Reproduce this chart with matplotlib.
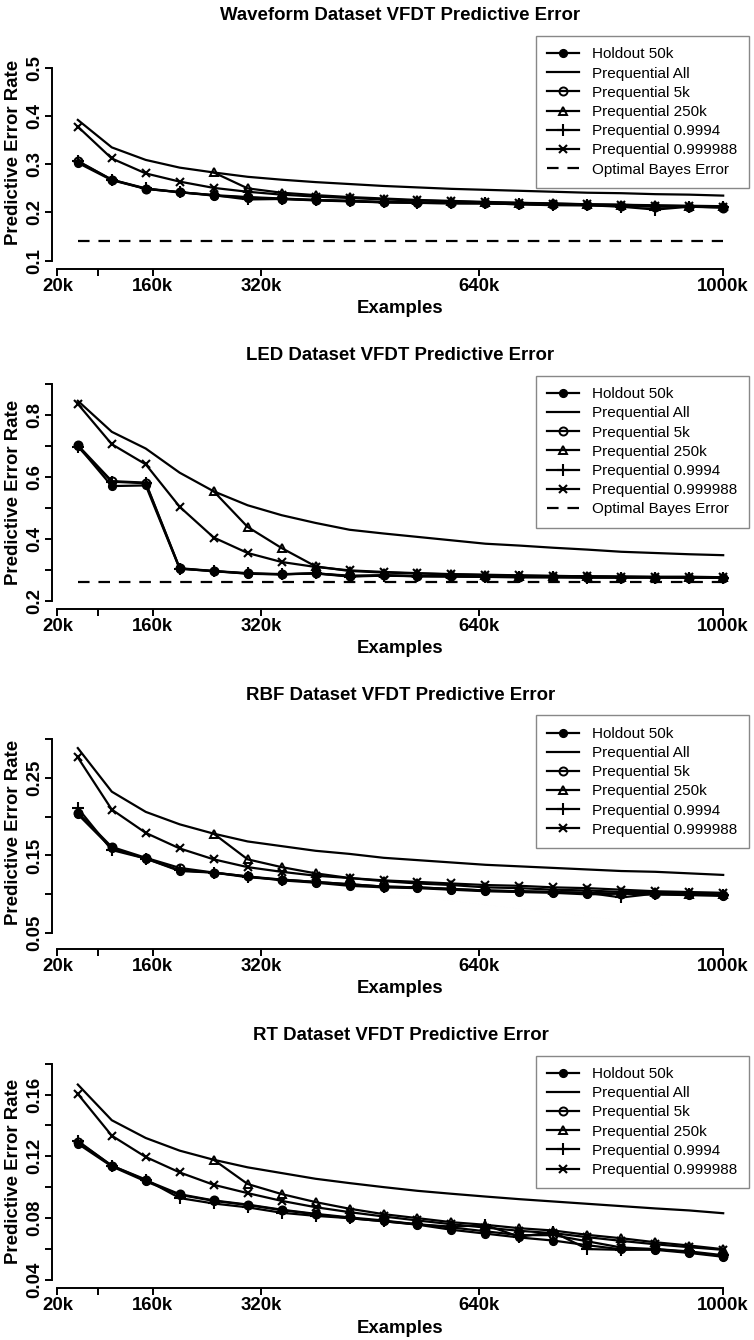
import numpy as np
import matplotlib
matplotlib.use("Agg")
import matplotlib.pyplot as plt

plt.rcParams['font.family'] = ['Liberation Sans', 'DejaVu Sans']

W, H = 754, 1340

# ---------------- data ----------------
examples_k = [50, 100, 150, 200, 250, 300, 350, 400, 450, 500,
              550, 600, 650, 700, 750, 800, 850, 900, 950, 1000]
x_ticks = [20, 80, 160, 320, 640, 1000]
x_tick_labels = ["20k", "", "160k", "320k", "640k", "1000k"]

series_labels = ["Holdout 50k", "Prequential All", "Prequential 5k",
                 "Prequential 250k", "Prequential 0.9994", "Prequential 0.999988"]
bayes_label = "Optimal Bayes Error"
nan = float("nan")

# Waveform
wave_holdout = [0.303, 0.267, 0.249, 0.242, 0.235, 0.231, 0.228, 0.225, 0.223, 0.221,
                0.220, 0.219, 0.219, 0.217, 0.216, 0.215, 0.213, 0.213, 0.212, 0.211]
wave_all = [0.392, 0.335, 0.309, 0.293, 0.283, 0.274, 0.268, 0.263, 0.259, 0.255,
            0.252, 0.249, 0.247, 0.245, 0.243, 0.241, 0.240, 0.238, 0.237, 0.235]
wave_5k = [0.306, 0.268, 0.249, 0.242, 0.236, 0.232, 0.229, 0.226, 0.224, 0.222,
           0.221, 0.220, 0.219, 0.218, 0.217, 0.216, 0.214, 0.212, 0.212, 0.210]
wave_250k = [nan, nan, nan, nan, 0.283, 0.250, 0.241, 0.236, 0.232, 0.229,
             0.226, 0.224, 0.222, 0.220, 0.219, 0.217, 0.216, 0.215, 0.214, 0.213]
wave_f9994 = [0.307, 0.268, 0.250, 0.242, 0.236, 0.227, 0.228, 0.226, 0.224, 0.221,
              0.220, 0.219, 0.219, 0.217, 0.215, 0.215, 0.212, 0.206, 0.212, 0.211]
wave_f999988 = [0.378, 0.312, 0.281, 0.264, 0.251, 0.243, 0.237, 0.233, 0.230, 0.227,
                0.225, 0.223, 0.221, 0.220, 0.218, 0.217, 0.216, 0.214, 0.213, 0.212]
wave_bayes = 0.14

# LED
led_holdout = [0.701, 0.571, 0.573, 0.304, 0.297, 0.288, 0.286, 0.290, 0.280, 0.283,
               0.280, 0.280, 0.278, 0.277, 0.277, 0.276, 0.276, 0.276, 0.276, 0.275]
led_all = [0.846, 0.746, 0.692, 0.614, 0.554, 0.509, 0.477, 0.452, 0.430, 0.418,
           0.407, 0.396, 0.385, 0.379, 0.372, 0.366, 0.359, 0.355, 0.351, 0.348]
led_5k = [0.703, 0.587, 0.582, 0.306, 0.297, 0.290, 0.287, 0.289, 0.282, 0.283,
          0.281, 0.280, 0.279, 0.278, 0.277, 0.277, 0.276, 0.276, 0.276, 0.276]
led_250k = [nan, nan, nan, nan, 0.554, 0.439, 0.371, 0.312, 0.297, 0.292,
            0.289, 0.286, 0.284, 0.282, 0.281, 0.280, 0.279, 0.278, 0.278, 0.277]
led_f9994 = [0.698, 0.585, 0.580, 0.305, 0.296, 0.289, 0.286, 0.289, 0.279, 0.282,
             0.280, 0.279, 0.278, 0.277, 0.277, 0.276, 0.276, 0.276, 0.275, 0.275]
led_f999988 = [0.836, 0.706, 0.641, 0.504, 0.405, 0.355, 0.326, 0.310, 0.299, 0.294,
               0.290, 0.287, 0.285, 0.283, 0.281, 0.280, 0.279, 0.278, 0.278, 0.277]
led_bayes = 0.26

# RBF
rbf_holdout = [0.203, 0.159, 0.146, 0.130, 0.128, 0.123, 0.118, 0.115, 0.111, 0.109,
               0.108, 0.106, 0.104, 0.103, 0.102, 0.100, 0.101, 0.100, 0.099, 0.098]
rbf_all = [0.288, 0.232, 0.206, 0.190, 0.178, 0.168, 0.162, 0.156, 0.152, 0.147,
           0.144, 0.141, 0.138, 0.136, 0.134, 0.132, 0.130, 0.129, 0.127, 0.125]
rbf_5k = [0.205, 0.161, 0.147, 0.134, 0.128, 0.123, 0.119, 0.116, 0.113, 0.110,
          0.109, 0.107, 0.105, 0.104, 0.103, 0.102, 0.101, 0.100, 0.100, 0.099]
rbf_250k = [nan, nan, nan, nan, 0.178, 0.145, 0.135, 0.127, 0.121, 0.117,
            0.114, 0.112, 0.109, 0.108, 0.106, 0.105, 0.103, 0.103, 0.101, 0.100]
rbf_f9994 = [0.211, 0.157, 0.146, 0.131, 0.128, 0.122, 0.119, 0.116, 0.113, 0.110,
             0.109, 0.107, 0.105, 0.104, 0.103, 0.102, 0.096, 0.101, 0.100, 0.099]
rbf_f999988 = [0.276, 0.209, 0.179, 0.159, 0.145, 0.135, 0.129, 0.124, 0.121, 0.118,
               0.116, 0.114, 0.112, 0.111, 0.109, 0.108, 0.106, 0.104, 0.103, 0.102]

# RT
rt_holdout = [0.1282, 0.1135, 0.1038, 0.0951, 0.0912, 0.0885, 0.0852, 0.0825, 0.0800, 0.0780,
              0.0758, 0.0725, 0.0700, 0.0675, 0.0655, 0.0625, 0.0598, 0.0595, 0.0575, 0.0550]
rt_all = [0.1665, 0.1434, 0.1319, 0.1237, 0.1178, 0.1129, 0.1092, 0.1055, 0.1027, 0.1001,
          0.0977, 0.0958, 0.0940, 0.0923, 0.0908, 0.0893, 0.0878, 0.0863, 0.0850, 0.0832]
rt_5k = [0.1295, 0.1140, 0.1045, 0.0955, 0.0915, 0.0888, 0.0855, 0.0828, 0.0805, 0.0785,
         0.0760, 0.0740, 0.0715, 0.0690, 0.0690, 0.0650, 0.0610, 0.0600, 0.0580, 0.0555]
rt_250k = [nan, nan, nan, nan, 0.1178, 0.1021, 0.0956, 0.0904, 0.0861, 0.0826,
           0.0800, 0.0774, 0.0757, 0.0735, 0.0720, 0.0692, 0.0670, 0.0644, 0.0623, 0.0599]
rt_f9994 = [0.1300, 0.1140, 0.1050, 0.0930, 0.0895, 0.0870, 0.0835, 0.0815, 0.0800, 0.0780,
            0.0760, 0.0745, 0.0755, 0.0680, 0.0710, 0.0600, 0.0595, 0.0600, 0.0585, 0.0560]
rt_f999988 = [0.1604, 0.1334, 0.1196, 0.1096, 0.1016, 0.0962, 0.0912, 0.0871, 0.0839, 0.0811,
              0.0785, 0.0761, 0.0739, 0.0718, 0.0703, 0.0677, 0.0653, 0.0631, 0.0612, 0.0595]

titles = ["Waveform Dataset VFDT Predictive Error", "LED Dataset VFDT Predictive Error",
          "RBF Dataset VFDT Predictive Error", "RT Dataset VFDT Predictive Error"]

wave_yticks = [0.1, 0.2, 0.3, 0.4, 0.5]
wave_ylabels = ["0.1", "0.2", "0.3", "0.4", "0.5"]
led_yticks = [0.2, 0.3, 0.4, 0.5, 0.6, 0.7, 0.8, 0.9]
led_ylabels = ["0.2", "", "0.4", "", "0.6", "", "0.8", ""]
rbf_yticks = [0.05, 0.10, 0.15, 0.20, 0.25, 0.30]
rbf_ylabels = ["0.05", "", "0.15", "", "0.25", ""]
rt_yticks = [0.04, 0.06, 0.08, 0.10, 0.12, 0.14, 0.16, 0.18]
rt_ylabels = ["0.04", "", "0.08", "", "0.12", "", "0.16", ""]

# ---------------- layout (pixels) ----------------
panels = [
    dict(title=titles[0], data=[wave_holdout, wave_all, wave_5k, wave_250k, wave_f9994, wave_f999988],
         bayes=wave_bayes, yt=wave_yticks, yl=wave_ylabels, ylim=(0.0828, 0.566),
         top=36, bottom=269, title_y=20, xlab_y=313),
    dict(title=titles[1], data=[led_holdout, led_all, led_5k, led_250k, led_f9994, led_f999988],
         bayes=led_bayes, yt=led_yticks, yl=led_ylabels, ylim=(0.176, 0.927),
         top=375.7, bottom=608.5, title_y=360, xlab_y=653),
    dict(title=titles[2], data=[rbf_holdout, rbf_all, rbf_5k, rbf_250k, rbf_f9994, rbf_f999988],
         bayes=None, yt=rbf_yticks, yl=rbf_ylabels, ylim=(0.0294, 0.330),
         top=715.4, bottom=949.3, title_y=699.5, xlab_y=993),
    dict(title=titles[3], data=[rt_holdout, rt_all, rt_5k, rt_250k, rt_f9994, rt_f999988],
         bayes=None, yt=rt_yticks, yl=rt_ylabels, ylim=(0.0346, 0.1853),
         top=1055.5, bottom=1288.3, title_y=1039.5, xlab_y=1333),
]

styles = [
    dict(marker='o', ms=5.6, mfc='black', mec='black'),
    dict(marker=None),
    dict(marker='o', ms=5.8, mfc='none', mec='black', mew=1.4),
    dict(marker='^', ms=6.2, mfc='none', mec='black', mew=1.4),
    dict(marker='+', ms=8.5, mec='black', mew=1.5),
    dict(marker='x', ms=6.2, mec='black', mew=1.5),
]

LEFT, RIGHT = 52, 749
XLIM = (12, 1038)
BOLD = 13.4

fig = plt.figure(figsize=(W / 100, H / 100), dpi=100)

for p in panels:
    ax = fig.add_axes([LEFT / W, 1 - p['bottom'] / H, (RIGHT - LEFT) / W,
                       (p['bottom'] - p['top']) / H])
    handles = []
    for vals, lab, st in zip(p['data'], series_labels, styles):
        ln, = ax.plot(examples_k, vals, color='black', lw=1.6, label=lab, **st)
        handles.append(ln)
    if p['bayes'] is not None:
        ln, = ax.plot([examples_k[0], examples_k[-1]], [p['bayes'], p['bayes']],
                      color='black', lw=1.6, dashes=(5.2, 4.0), label=bayes_label)
        handles.append(ln)
    ax.set_xlim(*XLIM)
    ax.set_ylim(*p['ylim'])
    for s in ['top', 'right']:
        ax.spines[s].set_visible(False)
    ax.spines['left'].set_bounds(p['yt'][0], p['yt'][-1])
    ax.spines['bottom'].set_bounds(x_ticks[0], x_ticks[-1])
    for s in ['left', 'bottom']:
        ax.spines[s].set_linewidth(1.4)
    ax.set_xticks(x_ticks)
    ax.set_xticklabels(x_tick_labels, fontsize=BOLD, fontweight='bold')
    ax.set_yticks(p['yt'])
    ax.set_yticklabels(p['yl'], fontsize=BOLD, fontweight='bold', rotation=90, va='center')
    ax.tick_params(axis='both', direction='out', length=5, width=1.4)
    ax.tick_params(axis='x', pad=1.5)
    ax.tick_params(axis='y', pad=1.0)
    ax.patch.set_alpha(0)

    leg = ax.legend(handles=handles, loc='upper right', bbox_to_anchor=(1, 1),
                    borderaxespad=0, fancybox=False, framealpha=1, edgecolor='#888888',
                    fontsize=11, handlelength=2.1, handletextpad=0.85, labelspacing=0.34,
                    borderpad=0.75, numpoints=1)
    leg.get_frame().set_linewidth(1.0)

    cx = (LEFT + RIGHT) / 2 / W
    fig.text(cx, 1 - p['title_y'] / H, p['title'], ha='center', va='baseline',
             fontsize=BOLD, fontweight='bold')
    fig.text(cx, 1 - p['xlab_y'] / H, "Examples", ha='center', va='baseline',
             fontsize=BOLD, fontweight='bold')
    fig.text(14 / W, 1 - (p['top'] + p['bottom']) / 2 / H, "Predictive Error Rate",
             rotation=90, ha='center', va='center', fontsize=BOLD, fontweight='bold')

fig.savefig("out.png", dpi=100)
